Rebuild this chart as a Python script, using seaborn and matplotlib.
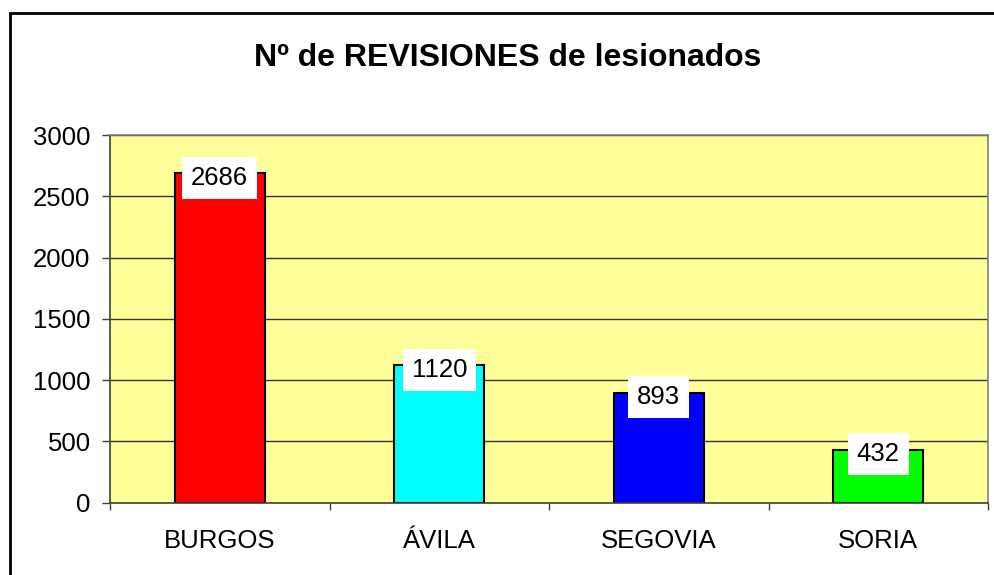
import matplotlib
matplotlib.use("Agg")
import matplotlib.pyplot as plt
import seaborn as sns
from matplotlib.patches import Rectangle

# datos del gráfico
provincias = ["BURGOS", "ÁVILA", "SEGOVIA", "SORIA"]
revisiones = [2686, 1120, 893, 432]
colores = ["#FF0000", "#00FFFF", "#0000FF", "#00FF00"]
yticks = [0, 500, 1000, 1500, 2000, 2500, 3000]
titulo = "Nº de REVISIONES de lesionados"

sns.set_style("white")
plt.rcParams["font.family"] = ["Liberation Sans", "DejaVu Sans"]
plt.rcParams["text.color"] = "black"
plt.rcParams["xtick.labelcolor"] = "black"
plt.rcParams["ytick.labelcolor"] = "black"

fig = plt.figure(figsize=(9.94, 5.75), dpi=100)
ax = fig.add_axes([110/994, 1-502.7/575, (988-110)/994, (502.7-135)/575])
ax.set_facecolor("#FFFF99")
ax.set_axisbelow(True)
ax.yaxis.grid(True, color="#333333", linewidth=1)

sns.barplot(x=provincias, y=revisiones, hue=provincias, palette=colores,
            width=0.41, saturation=1, edgecolor="black", linewidth=1.5,
            legend=False, ax=ax)

# etiquetas con fondo blanco
for i, v in enumerate(revisiones):
    ax.annotate(str(v), (i, v), xytext=(0, -3), textcoords="offset points",
                ha="center", va="center", fontsize=18.5, color="black", zorder=5,
                bbox=dict(boxstyle="square,pad=0.35", fc="white", ec="none"))

ax.set_ylim(0, 3000)
ax.set_xlim(-0.5, 3.5)
ax.set_yticks(yticks)
ax.set_xticks(range(len(provincias)))
ax.set_xticklabels(provincias)
ax.set_xticks([-0.5, 0.5, 1.5, 2.5, 3.5], minor=True)
ax.set_xlabel("")
ax.set_ylabel("")

ax.tick_params(axis="y", which="major", length=6, width=1, color="#404040",
               pad=8, labelsize=18.5, labelcolor="black", left=True)
ax.tick_params(axis="x", which="major", length=0, pad=19, labelsize=18.5,
               labelcolor="black")
ax.tick_params(axis="x", which="minor", length=5, width=1, color="#404040",
               bottom=True)

for s in ["top", "right"]:
    ax.spines[s].set_color("#808080")
    ax.spines[s].set_linewidth(1.2)
for s in ["left", "bottom"]:
    ax.spines[s].set_color("#404040")
    ax.spines[s].set_linewidth(1.2)

# marco exterior
fig.add_artist(Rectangle((10/994, -0.05), 1.0, (575-13)/575 + 0.05,
                         transform=fig.transFigure, fill=False,
                         edgecolor="black", linewidth=2))

fig.text(508/994, 1-58/575, titulo, ha="center", va="center",
         fontsize=23, fontweight="bold", color="black")

fig.savefig("out.png", dpi=100)
